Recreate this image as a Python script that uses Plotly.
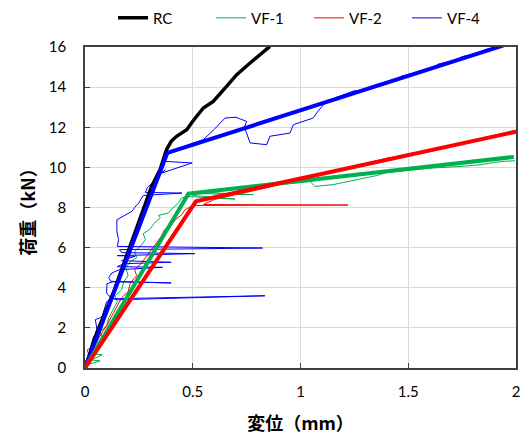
import plotly.graph_objects as go

# RC (black, thick)
rc_x = [0, 0.054, 0.131, 0.209, 0.255, 0.309, 0.348, 0.379, 0.40, 0.425, 0.472, 0.50, 0.549, 0.595, 0.657, 0.704, 0.766, 0.858]
rc_y = [0, 1.74, 3.74, 6.06, 7.39, 9.05, 9.88, 10.9, 11.3, 11.55, 11.88, 12.3, 12.96, 13.29, 14.04, 14.62, 15.2, 16.03]

# VF-1 raw (green thin)
vf1_x = [0, 0.02, 0.07, 0.03, 0.08, 0.04, 0.05, 0.06, 0.08, 0.07, 0.10, 0.11, 0.13, 0.15, 0.14, 0.17, 0.18, 0.20, 0.19, 0.21,
         0.24, 0.23, 0.26, 0.28, 0.27, 0.30, 0.32, 0.35, 0.34, 0.387, 0.40, 0.42, 0.433, 0.448, 0.472, 0.696, 0.50, 0.49, 0.781,
         0.55, 0.65, 0.80, 0.95, 1.044, 1.067, 1.152, 1.20, 1.26, 1.353, 1.40, 1.50, 1.616, 1.75, 1.833, 1.90, 1.94, 1.995]
vf1_y = [0, 0.2, 0.35, 0.4, 0.66, 0.7, 1.0, 1.3, 1.5, 1.8, 2.1, 2.5, 2.9, 3.3, 3.6, 3.9, 4.3, 4.6, 5.0, 5.3,
         5.5, 5.8, 6.1, 6.4, 6.7, 6.9, 7.2, 7.5, 7.6, 7.73, 7.9, 8.1, 8.22, 8.47, 8.55, 8.42, 8.6, 8.7, 8.64,
         8.75, 8.85, 9.0, 9.2, 9.3, 9.05, 9.14, 9.25, 9.39, 9.59, 9.75, 9.85, 9.97, 10.05, 10.13, 10.25, 10.3, 10.33]

# VF-2 raw (red thin)
vf2_x = [0, 0.0, 0.02, 0.01, 0.04, 0.06, 0.08, 0.10, 0.12, 0.14, 0.16, 0.17, 0.20, 0.21, 0.24, 0.23, 0.26, 0.28, 0.30, 0.32,
         0.35, 0.37, 0.40, 0.42, 0.449, 0.464, 0.48, 0.50, 1.22, 0.55, 0.60, 0.70, 0.85, 1.0, 1.1, 1.2, 1.3, 1.4, 1.5, 1.6,
         1.7, 1.8, 1.9, 2.0]
vf2_y = [0, 0.3, 0.6, 0.9, 1.1, 1.4, 1.8, 2.1, 2.5, 2.9, 3.3, 3.5, 3.8, 4.24, 4.6, 4.9, 5.2, 5.5, 5.8, 6.1,
         6.5, 6.9, 7.1, 7.4, 7.64, 7.89, 8.0, 8.1, 8.12, 8.15, 8.4, 8.65, 9.0, 9.42, 9.7, 9.95, 10.2, 10.45, 10.65, 10.9,
         11.12, 11.35, 11.6, 11.85]

# VF-4 raw (blue thin)
vf4_x = [0, 0.01, 0.02, 0.032, 0.04, 0.05, 0.056, 0.048, 0.07, 0.08, 0.09, 0.10, 0.12, 0.835, 0.15, 0.12, 0.10, 0.102, 0.13,
         0.40, 0.12, 0.11, 0.125, 0.16, 0.36, 0.15, 0.18, 0.40, 0.17, 0.233, 0.15, 0.51, 0.17, 0.16, 0.824, 0.15, 0.156,
         0.148, 0.148, 0.218, 0.23, 0.249, 0.264, 0.27, 0.45, 0.28, 0.29, 0.32, 0.34, 0.373, 0.357, 0.497, 0.37, 0.38,
         0.42, 0.50, 0.549, 0.60, 0.65, 0.70, 0.75, 0.74, 0.766, 0.843, 0.858, 0.951, 0.967, 1.059, 1.075, 1.12, 1.25,
         1.30, 1.35, 1.45, 1.47, 1.55, 1.62, 1.64, 1.72, 1.75, 1.82, 1.86, 1.94, 1.97]
vf4_y = [0, 0.3, 0.8, 1.2, 1.58, 1.5, 1.91, 2.41, 2.5, 2.6, 3.0, 3.3, 3.45, 3.6, 3.4, 3.5, 3.74, 4.2, 4.3,
         4.24, 4.32, 4.5, 4.74, 4.9, 5.02, 5.05, 5.2, 5.27, 5.35, 5.57, 5.6, 5.70, 5.75, 5.9, 5.98, 6.06, 6.4,
         6.81, 7.39, 7.81, 8.0, 8.22, 8.55, 8.6, 8.72, 8.75, 9.0, 9.3, 9.6, 9.88, 9.72, 10.22, 10.3, 10.7,
         10.9, 11.2, 11.38, 11.9, 12.46, 12.5, 12.29, 12.0, 11.22, 11.13, 11.55, 11.71, 12.13, 12.46, 12.71, 13.3, 13.82,
         13.85, 14.12, 14.4, 14.55, 14.75, 15.0, 15.15, 15.35, 15.52, 15.68, 15.88, 16.05, 16.1]

# Bilinear models (thick)
bl1_x = [0, 0.48, 1.99]
bl1_y = [0, 8.69, 10.52]
bl2_x = [0, 0.515, 2.0]
bl2_y = [0, 8.31, 11.78]
bl4_x = [0, 0.382, 2.0]
bl4_y = [0, 10.72, 16.28]

GREEN = "#00b050"
RED = "#ff0000"
BLUE = "#0000ff"

fig = go.Figure()
fig.add_trace(go.Scatter(x=vf1_x, y=vf1_y, mode="lines", name="VF-1", legendrank=2,
                         line=dict(color=GREEN, width=1)))
fig.add_trace(go.Scatter(x=vf2_x, y=vf2_y, mode="lines", name="VF-2", legendrank=3,
                         line=dict(color=RED, width=1)))
fig.add_trace(go.Scatter(x=vf4_x, y=vf4_y, mode="lines", name="VF-4", legendrank=4,
                         line=dict(color=BLUE, width=1)))
fig.add_trace(go.Scatter(x=rc_x, y=rc_y, mode="lines", name="RC", legendrank=1,
                         line=dict(color="black", width=3.5)))
fig.add_trace(go.Scatter(x=bl4_x, y=bl4_y, mode="lines", showlegend=False,
                         line=dict(color=BLUE, width=4)))
fig.add_trace(go.Scatter(x=bl1_x, y=bl1_y, mode="lines", showlegend=False,
                         line=dict(color=GREEN, width=4)))
fig.add_trace(go.Scatter(x=bl2_x, y=bl2_y, mode="lines", showlegend=False,
                         line=dict(color=RED, width=4)))

tickfont = dict(family="Lato, 'Open Sans', sans-serif", size=15, color="black")
titlefont = dict(family="'Noto Sans CJK JP', sans-serif", size=18, color="black", weight="bold")

fig.update_layout(
    width=524, height=437,
    margin=dict(l=85, r=8, t=47, b=69, autoexpand=False),
    paper_bgcolor="white", plot_bgcolor="white",
    showlegend=True,
    legend=dict(orientation="h", x=0.065, xanchor="left", y=1.09, yanchor="middle",
                font=tickfont, entrywidth=53, entrywidthmode="pixels",
                traceorder="normal", bgcolor="rgba(0,0,0,0)"),
    xaxis=dict(range=[0, 2], dtick=0.5, showgrid=True, gridcolor="#d9d9d9", gridwidth=1,
               zeroline=False, showline=True, linecolor="#404040", linewidth=1.5, mirror=True,
               ticks="inside", ticklen=5, tickcolor="#404040", tickfont=tickfont,
               ticklabelstandoff=9, automargin=False, ticklabeloverflow="allow",
               title=dict(text="変位（mm）", font=titlefont, standoff=19)),
    yaxis=dict(range=[0, 16], dtick=2, showgrid=True, gridcolor="#d9d9d9", gridwidth=1,
               zeroline=False, showline=True, linecolor="#404040", linewidth=1.5, mirror=True,
               ticks="inside", ticklen=5, tickcolor="#404040", tickfont=tickfont,
               ticklabelstandoff=14, automargin=False,
               title=dict(text="荷重（kN）", font=titlefont, standoff=9)),
)

# Remove the page's default body margin so the 524x437 figure fills the window exactly.
fig.write_html("out.html",
               config={"displayModeBar": False},
               post_script="document.body.style.margin='0';document.body.style.overflow='hidden';")
